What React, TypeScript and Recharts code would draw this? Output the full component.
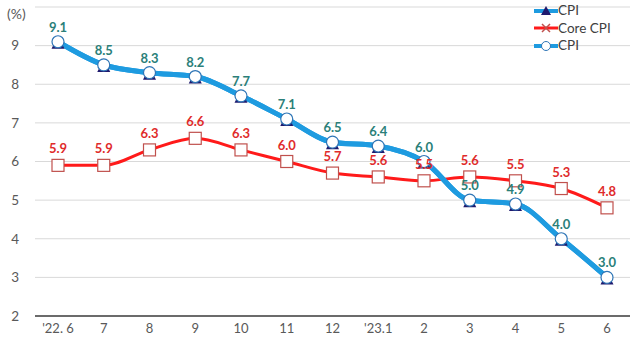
import React from "react";
import {
    LineChart,
    Line,
    XAxis,
    YAxis,
    CartesianGrid,
    LabelList,
} from "recharts";

const months = ["'22. 6", "7", "8", "9", "10", "11", "12", "'23.1", "2", "3", "4", "5", "6"];
const cpi = [9.1, 8.5, 8.3, 8.2, 7.7, 7.1, 6.5, 6.4, 6.0, 5.0, 4.9, 4.0, 3.0];
const coreCpi = [5.9, 5.9, 6.3, 6.6, 6.3, 6.0, 5.7, 5.6, 5.5, 5.6, 5.5, 5.3, 4.8];
const yTicks = [2, 3, 4, 5, 6, 7, 8, 9];

const data = months.map((m, i) => ({ month: m, cpi: cpi[i], core: coreCpi[i] }));

const FONT = "Lato, 'Open Sans', sans-serif";
const BLUE = "#1e9be0";
const RED = "#ff1a1a";
const NAVY = "#1f1a6e";
const TEAL = "#2b7f79";
const RED_LABEL = "#e02b2b";

// triangle sits under the circle, only its base peeks out
const TriangleDot = (props: any) => {
    const { cx, cy } = props;
    if (cx == null || cy == null) return null;
    return (
        <path
            d={`M${cx},${cy - 6} L${cx - 6.5},${cy + 7} L${cx + 6.5},${cy + 7} Z`}
            fill={NAVY}
        />
    );
};

const SquareDot = (props: any) => {
    const { cx, cy } = props;
    if (cx == null || cy == null) return null;
    return <rect x={cx - 6} y={cy - 6} width={12} height={12} fill="#fff" stroke="#c0504d" strokeWidth={1.2} />;
};

const CircleDot = (props: any) => {
    const { cx, cy } = props;
    if (cx == null || cy == null) return null;
    return <circle cx={cx} cy={cy} r={6} fill="#fff" stroke="#2e75b6" strokeWidth={1.2} />;
};

const LegendBox = () => (
    <div
        style={{
            position: "absolute",
            left: 534,
            top: 2,
            fontFamily: FONT,
            fontSize: 13.5,
            color: "#404040",
            lineHeight: "17.5px",
        }}
    >
        <div style={{ display: "flex", alignItems: "center" }}>
            <svg width={24} height={12}>
                <line x1={0} y1={6} x2={24} y2={6} stroke={BLUE} strokeWidth={4} />
                <path d="M12,1 L7,10 L17,10 Z" fill={NAVY} />
            </svg>
            <span>CPI</span>
        </div>
        <div style={{ display: "flex", alignItems: "center" }}>
            <svg width={24} height={12}>
                <line x1={0} y1={6} x2={24} y2={6} stroke={RED} strokeWidth={3} />
                <path d="M8,2 L16,10 M16,2 L8,10" stroke="#c0504d" strokeWidth={1.5} />
            </svg>
            <span>Core CPI</span>
        </div>
        <div style={{ display: "flex", alignItems: "center" }}>
            <svg width={24} height={12}>
                <line x1={0} y1={6} x2={24} y2={6} stroke={BLUE} strokeWidth={4} />
                <circle cx={12} cy={6} r={4.5} fill="#fff" stroke="#2e75b6" strokeWidth={1} />
            </svg>
            <span>CPI</span>
        </div>
    </div>
);

const App: React.FC = () => {
    return (
        <div style={{ position: "fixed", left: 0, top: 0, width: 640, height: 353, background: "#fff" }}>
            <LineChart
                width={640}
                height={353}
                data={data}
                margin={{ top: 7, right: 10, left: 0, bottom: 7 }}
            >
                <CartesianGrid vertical={false} stroke="#d9d9d9" />
                <XAxis
                    dataKey="month"
                    padding={{ left: 23, right: 23 }}
                    tickLine={false}
                    axisLine={{ stroke: "#404040", strokeWidth: 1.5 }}
                    tick={{ fill: "#595959", fontSize: 13, fontFamily: FONT }}
                    interval={0}
                    height={30}
                />
                <YAxis
                    domain={[2, 10]}
                    ticks={yTicks}
                    width={35}
                    axisLine={false}
                    tickLine={false}
                    tickMargin={10}
                    tick={{ fill: "#595959", fontSize: 13.5, fontFamily: FONT }}
                />
                <Line
                    dataKey="core"
                    type="monotone"
                    stroke={RED}
                    strokeWidth={3}
                    dot={<SquareDot />}
                    isAnimationActive={false}
                >
                    <LabelList
                        dataKey="core"
                        position="top"
                        offset={12}
                        formatter={(v: any) => Number(v).toFixed(1)}
                        style={{ fill: RED_LABEL, fontSize: 13, fontWeight: 700, fontFamily: FONT }}
                    />
                </Line>
                <Line
                    dataKey="cpi"
                    type="monotone"
                    stroke={BLUE}
                    strokeWidth={5}
                    dot={<TriangleDot />}
                    isAnimationActive={false}
                />
                <Line
                    dataKey="cpi"
                    type="monotone"
                    stroke={BLUE}
                    strokeWidth={5}
                    dot={<CircleDot />}
                    isAnimationActive={false}
                >
                    <LabelList
                        dataKey="cpi"
                        position="top"
                        offset={10}
                        formatter={(v: any) => Number(v).toFixed(1)}
                        style={{ fill: TEAL, fontSize: 13, fontWeight: 700, fontFamily: FONT }}
                    />
                </Line>
            </LineChart>
            <div
                style={{
                    position: "absolute",
                    left: 7,
                    top: 5,
                    fontFamily: FONT,
                    fontSize: 14,
                    color: "#595959",
                }}
            >
                (%)
            </div>
            <LegendBox />
        </div>
    );
};

export default App;
